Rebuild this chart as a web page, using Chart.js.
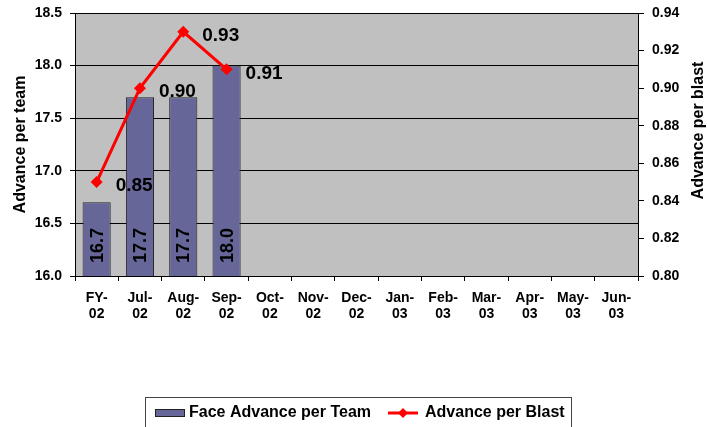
<!DOCTYPE html>
<html>
<head>
<meta charset="utf-8">
<script src="https://cdn.jsdelivr.net/npm/chart.js@4/dist/chart.umd.min.js"></script>
<style>
  html,body{margin:0;padding:0;background:#fff;}
  #wrap{width:707px;height:427px;position:relative;}
</style>
</head>
<body>
<div id="wrap"><canvas id="c"></canvas></div>
<script>
// --- data ---
var months = [['FY-','02'],['Jul-','02'],['Aug-','02'],['Sep-','02'],['Oct-','02'],['Nov-','02'],['Dec-','02'],
              ['Jan-','03'],['Feb-','03'],['Mar-','03'],['Apr-','03'],['May-','03'],['Jun-','03']];
var teamAdvance  = [16.7, 17.7, 17.7, 18.0, null, null, null, null, null, null, null, null, null];
var blastAdvance = [0.85, 0.90, 0.93, 0.91, null, null, null, null, null, null, null, null, null];
var teamAxis  = {min:16, max:18.5, step:0.5};
var blastAxis = {min:0.80, max:0.94, step:0.02};
var seriesNames = ['Face Advance per Team','Advance per Blast'];
var axisTitles = ['Advance per team','Advance per blast'];

var FONT = '"Liberation Sans", Arial, sans-serif';
var BAR_FILL = '#666699', LINE_RED = '#ff0000';

// grey plot area
var plotBg = {
  id:'plotBg',
  beforeDraw:function(ch){
    var a=ch.chartArea, c=ch.ctx;
    c.save();c.fillStyle='#c0c0c0';c.fillRect(a.left,a.top,a.right-a.left,a.bottom-a.top);c.restore();
  }
};

// value labels on bars and line points
var valueLabels = {
  id:'valueLabels',
  afterDatasetsDraw:function(ch){
    var c=ch.ctx;
    var base=ch.scales.y.getPixelForValue(teamAxis.min);
    c.save();
    // bars: vertical text
    var mb=ch.getDatasetMeta(1);
    mb.data.forEach(function(el,i){
      var v=ch.data.datasets[1].data[i]; if(v==null) return;
      c.save();
      c.fillStyle='#000';
      c.font='bold 18px '+FONT;
      c.translate(el.x+1, base-13);
      c.rotate(-Math.PI/2);
      c.textAlign='left';c.textBaseline='middle';
      c.fillText(v.toFixed(1),0,0);
      c.restore();
    });
    // line: to the right of points
    var ml=ch.getDatasetMeta(0);
    c.fillStyle='#000';
    c.font='bold 19px '+FONT;
    c.textAlign='left';c.textBaseline='middle';
    ml.data.forEach(function(el,i){
      var v=ch.data.datasets[0].data[i]; if(v==null) return;
      c.fillText(v.toFixed(2), el.x+19, el.y+4);
    });
    c.restore();
  }
};

// right axis title reading bottom-to-top, plus boxed legend
var extras = {
  id:'extras',
  afterDraw:function(ch){
    var c=ch.ctx, ds=ch.data.datasets, a=ch.chartArea;
    c.save();
    c.fillStyle='#000';c.font='bold 16px '+FONT;
    c.translate(699,(a.top+a.bottom)/2-14);c.rotate(-Math.PI/2);
    c.textAlign='center';c.textBaseline='middle';
    c.fillText(axisTitles[1],0,0);
    c.restore();

    c.save();
    c.fillStyle='#fff';c.fillRect(145.5,397.5,426,40);
    c.strokeStyle='#444';c.lineWidth=1;c.strokeRect(145.5,397.5,426,40);
    // bar swatch
    c.fillStyle=BAR_FILL;c.fillRect(156,410,28,6);
    c.strokeStyle='#222';c.strokeRect(155.5,409.5,29,7);
    // line swatch
    c.strokeStyle=LINE_RED;c.lineWidth=3;
    c.beginPath();c.moveTo(388,413);c.lineTo(418,413);c.stroke();
    c.fillStyle=LINE_RED;c.beginPath();
    c.moveTo(403,408);c.lineTo(408,413);c.lineTo(403,418);c.lineTo(398,413);c.closePath();c.fill();
    c.fillStyle='#000';c.font='bold 16px '+FONT;c.textBaseline='middle';c.textAlign='left';
    c.fillText(ds[1].label,189,413);
    c.fillText(ds[0].label,425,413);
    c.restore();
  }
};

function noOverflow(s){s.paddingTop=0;s.paddingBottom=0;}

new Chart(document.getElementById('c'),{
  type:'bar',
  data:{
    labels:months,
    datasets:[
      {type:'line',label:seriesNames[1],data:blastAdvance,yAxisID:'y1',order:0,
       borderColor:LINE_RED,backgroundColor:LINE_RED,borderWidth:3,
       pointStyle:'rectRot',pointRadius:6,pointHoverRadius:6,pointBackgroundColor:LINE_RED,pointBorderWidth:0,
       tension:0,spanGaps:false},
      {type:'bar',label:seriesNames[0],data:teamAdvance,yAxisID:'y',order:1,
       backgroundColor:BAR_FILL,borderColor:'#222',borderWidth:1,
       barPercentage:0.65,categoryPercentage:1}
    ]
  },
  options:{
    responsive:true,maintainAspectRatio:false,animation:false,
    layout:{padding:{top:13,left:0,right:0,bottom:107}},
    plugins:{legend:{display:false},tooltip:{enabled:false}},
    scales:{
      x:{
        offset:true,
        grid:{offset:true,drawOnChartArea:false,tickLength:5,color:'#000'},
        border:{color:'#000'},
        ticks:{color:'#000',font:{family:FONT,size:14,weight:'bold',lineHeight:1.15},maxRotation:0,autoSkip:false,padding:9},
        afterFit:function(s){s.height=44;s.paddingLeft=0;s.paddingRight=0;}
      },
      y:{
        position:'left',min:teamAxis.min,max:teamAxis.max,
        grid:{color:'#000',tickLength:5},
        border:{color:'#000'},
        ticks:{stepSize:teamAxis.step,color:'#000',padding:8,font:{family:FONT,size:14,weight:'bold'},
               callback:function(v){return v.toFixed(1);}},
        title:{display:true,text:axisTitles[0],color:'#000',font:{family:FONT,size:16,weight:'bold'},padding:{top:11,bottom:0}},
        afterFit:function(s){s.width=75;noOverflow(s);}
      },
      y1:{
        position:'right',min:blastAxis.min,max:blastAxis.max,
        grid:{drawOnChartArea:false,color:'#000',tickLength:6},
        border:{color:'#000'},
        ticks:{stepSize:blastAxis.step,color:'#000',padding:8,font:{family:FONT,size:14,weight:'bold'},
               callback:function(v){return v.toFixed(2);}},
        afterFit:function(s){s.width=69;noOverflow(s);}
      }
    }
  },
  plugins:[plotBg,valueLabels,extras]
});
</script>
</body>
</html>
